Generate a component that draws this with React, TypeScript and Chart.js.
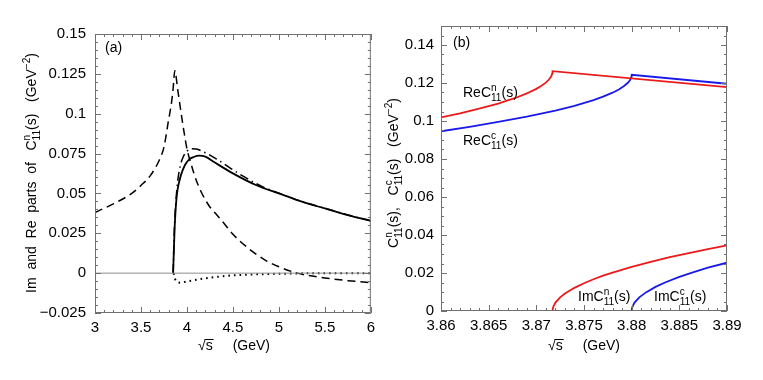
import React, { useEffect, useRef } from "react";
import { Chart, registerables } from "chart.js";
Chart.register(...registerables);

const FONT = '"Liberation Sans", Arial, Helvetica, sans-serif';
const FRAME = "#707070";
const RED = "rgb(235,25,25)";
const BLUE = "rgb(25,25,235)";

// ---------- Panel (a) ----------
const A_X_TICKS = [3, 3.5, 4, 4.5, 5, 5.5, 6];
const A_X_LABELS = ["3", "3.5", "4", "4.5", "5", "5.5", "6"];
const A_Y_TICKS = [-0.025, 0, 0.025, 0.05, 0.075, 0.1, 0.125, 0.15];
const A_Y_LABELS = ["\u22120.025", "0", "0.025", "0.05", "0.075", "0.1", "0.125", "0.15"];

const A_DASHED_X = [3.0, 3.2, 3.4, 3.5, 3.6, 3.7, 3.75, 3.8, 3.83, 3.85, 3.868, 3.9, 3.935, 3.97, 4.0, 4.05, 4.1, 4.15, 4.2, 4.25, 4.31, 4.4, 4.49, 4.67, 4.85, 5.0, 5.2, 5.5, 5.75, 6.0];
const A_DASHED_Y = [0.038, 0.0435, 0.05, 0.055, 0.061, 0.071, 0.079, 0.096, 0.106, 0.116, 0.127, 0.115, 0.101, 0.088, 0.078, 0.0675, 0.0585, 0.0515, 0.046, 0.0415, 0.0375, 0.0315, 0.025, 0.0155, 0.0082, 0.004, 0.0, -0.003, -0.0047, -0.006];

const A_SOLID_X = [3.85, 3.858, 3.866, 3.875, 3.885, 3.9, 3.935, 3.98, 4.025, 4.08, 4.13, 4.2, 4.3, 4.5, 4.75, 5.0, 5.25, 5.5, 5.75, 6.0];
const A_SOLID_Y = [0, 0.015, 0.028, 0.038, 0.046, 0.053, 0.0615, 0.068, 0.0714, 0.073, 0.0737, 0.0731, 0.0695, 0.0626, 0.0553, 0.05, 0.0448, 0.0406, 0.0364, 0.0328];

const A_DASHDOT_X = [3.85, 3.86, 3.87, 3.885, 3.9, 3.93, 3.96, 4.0, 4.05, 4.1, 4.2, 4.31, 4.475, 4.62, 4.81, 5.0, 5.25, 5.5, 5.75, 6.0];
const A_DASHDOT_Y = [0, 0.022, 0.036, 0.049, 0.058, 0.068, 0.073, 0.0765, 0.078, 0.0778, 0.0755, 0.072, 0.0657, 0.0605, 0.0545, 0.0502, 0.0449, 0.0407, 0.0365, 0.0328];

const A_DOTTED_X = [3.855, 3.87, 3.9, 3.93, 4.0, 4.13, 4.3, 4.5, 4.85, 5.2, 5.5, 6.0];
const A_DOTTED_Y = [0, -0.0035, -0.0058, -0.006, -0.0052, -0.0039, -0.0025, -0.0014, -0.0006, -0.0002, 0, 0];

const A_ZERO_X = [3, 6];
const A_ZERO_Y = [0, 0];

// ---------- Panel (b) ----------
const B_X_TICKS = [3.86, 3.865, 3.87, 3.875, 3.88, 3.885, 3.89];
const B_X_LABELS = ["3.86", "3.865", "3.87", "3.875", "3.88", "3.885", "3.89"];
const B_Y_TICKS = [0, 0.02, 0.04, 0.06, 0.08, 0.1, 0.12, 0.14];
const B_Y_LABELS = ["0", "0.02", "0.04", "0.06", "0.08", "0.1", "0.12", "0.14"];

const B_RE_N_X = [3.86, 3.862, 3.864, 3.866, 3.867, 3.868, 3.869, 3.87, 3.8705, 3.871, 3.8713, 3.8715, 3.8716, 3.87168, 3.8717, 3.89];
const B_RE_N_Y = [0.1019, 0.104, 0.1065, 0.1092, 0.1108, 0.1125, 0.1145, 0.1169, 0.1184, 0.1202, 0.1217, 0.123, 0.124, 0.1252, 0.1262, 0.1178];

const B_RE_C_X = [3.86, 3.863, 3.866, 3.869, 3.872, 3.874, 3.876, 3.877, 3.878, 3.8787, 3.8792, 3.8796, 3.8798, 3.8799, 3.87998, 3.88, 3.89];
const B_RE_C_Y = [0.0946, 0.0969, 0.0995, 0.1023, 0.1055, 0.108, 0.111, 0.1128, 0.1149, 0.1167, 0.1184, 0.1201, 0.1213, 0.1222, 0.1234, 0.1243, 0.1196];

const B_IM_N_X = [3.8717, 3.87172, 3.8718, 3.872, 3.8725, 3.873, 3.874, 3.875, 3.876, 3.877, 3.878, 3.88, 3.882, 3.884, 3.886, 3.888, 3.89];
const B_IM_N_Y = [0, 0.0011, 0.0025, 0.0044, 0.0072, 0.0092, 0.0122, 0.0146, 0.0167, 0.0186, 0.0202, 0.0232, 0.0259, 0.0283, 0.0305, 0.0326, 0.0345];

const B_IM_C_X = [3.88, 3.88002, 3.8801, 3.8803, 3.8808, 3.8815, 3.8825, 3.8835, 3.885, 3.8865, 3.888, 3.89];
const B_IM_C_Y = [0, 0.0011, 0.0025, 0.0044, 0.0072, 0.0098, 0.0127, 0.015, 0.018, 0.0205, 0.0228, 0.0254];

const pts = (xs: number[], ys: number[]) => xs.map((x, i) => ({ x, y: ys[i] }));

type Seg = { t: string; sup?: string; sub?: string; gap?: number };

function segWidth(ctx: CanvasRenderingContext2D, s: Seg, size: number) {
  ctx.font = `${size}px ${FONT}`;
  let w = ctx.measureText(s.t).width;
  const small = size * 0.72;
  ctx.font = `${small}px ${FONT}`;
  const a = s.sup ? ctx.measureText(s.sup).width : 0;
  const b = s.sub ? ctx.measureText(s.sub).width : 0;
  w += Math.max(a, b) + (s.gap || 0);
  return w;
}

function drawRich(ctx: CanvasRenderingContext2D, segs: Seg[], x: number, y: number, size: number, align: "left" | "center") {
  let total = 0;
  for (const s of segs) total += segWidth(ctx, s, size);
  let cx = align === "center" ? x - total / 2 : x;
  ctx.textAlign = "left";
  ctx.textBaseline = "alphabetic";
  for (const s of segs) {
    ctx.font = `${size}px ${FONT}`;
    ctx.fillText(s.t, cx, y);
    cx += ctx.measureText(s.t).width;
    const small = size * 0.72;
    ctx.font = `${small}px ${FONT}`;
    let m = 0;
    if (s.sup) {
      ctx.fillText(s.sup, cx, y - size * 0.45);
      m = Math.max(m, ctx.measureText(s.sup).width);
    }
    if (s.sub) {
      ctx.fillText(s.sub, cx, y + size * 0.3);
      m = Math.max(m, ctx.measureText(s.sub).width);
    }
    cx += m + (s.gap || 0);
  }
}

function drawSqrtTitle(ctx: CanvasRenderingContext2D, cx: number, y: number, size: number) {
  ctx.font = `${size}px ${FONT}`;
  const rad = "\u221A";
  const wr = ctx.measureText(rad).width;
  const ws = ctx.measureText("s").width;
  const gap = 20;
  const wg = ctx.measureText("(GeV)").width;
  const total = wr + ws + gap + wg;
  const x = cx - total / 2;
  ctx.textAlign = "left";
  ctx.textBaseline = "alphabetic";
  ctx.fillText(rad, x, y);
  const asc = ctx.measureText(rad).actualBoundingBoxAscent;
  ctx.fillText("s", x + wr, y);
  ctx.strokeStyle = "#000";
  ctx.lineWidth = 1;
  ctx.beginPath();
  const ly = Math.round(y - asc) + 0.5;
  ctx.moveTo(x + wr - 1, ly);
  ctx.lineTo(x + wr + ws + 1, ly);
  ctx.stroke();
  ctx.fillText("(GeV)", x + wr + ws + gap, y);
}

type Deco = {
  xMinor: number;
  yMinor: number;
  xTicks: number[];
  yTicks: number[];
  xTitleX: number;
  yTitle: Seg[];
  yTitleBase: number;
  yTitleCenter: number;
  labels: { segs: Seg[]; x: number; y: number }[];
};

function decoPlugin(d: Deco) {
  return {
    id: "deco",
    afterDraw(chart: any) {
      const ctx: CanvasRenderingContext2D = chart.ctx;
      const { left, right, top, bottom } = chart.chartArea;
      const xs = chart.scales.x;
      const ys = chart.scales.y;
      ctx.save();
      ctx.strokeStyle = FRAME;
      ctx.lineWidth = 1;
      ctx.strokeRect(left + 0.5, top + 0.5, right - left - 1, bottom - top - 1);
      const tick = (v: number, axis: "x" | "y", len: number) => {
        ctx.beginPath();
        if (axis === "x") {
          const p = Math.round(xs.getPixelForValue(v)) + 0.5;
          ctx.moveTo(p, bottom);
          ctx.lineTo(p, bottom - len);
          ctx.moveTo(p, top);
          ctx.lineTo(p, top + len);
        } else {
          const p = Math.round(ys.getPixelForValue(v)) + 0.5;
          ctx.moveTo(left, p);
          ctx.lineTo(left + len, p);
          ctx.moveTo(right, p);
          ctx.lineTo(right - len, p);
        }
        ctx.stroke();
      };
      const near = (v: number, arr: number[]) => arr.some((a) => Math.abs(a - v) < 1e-9);
      for (let v = xs.min; v <= xs.max + 1e-9; v += d.xMinor) {
        const vv = Math.round(v / d.xMinor) * d.xMinor;
        tick(vv, "x", near(vv, d.xTicks) ? 6 : 3);
      }
      for (let v = ys.min; v <= ys.max + 1e-9; v += d.yMinor) {
        const vv = Math.round(v / d.yMinor) * d.yMinor;
        tick(vv, "y", near(vv, d.yTicks) ? 6 : 3);
      }
      ctx.fillStyle = "#000";
      drawSqrtTitle(ctx, d.xTitleX, 350, 14);
      ctx.save();
      ctx.translate(d.yTitleBase, d.yTitleCenter);
      ctx.rotate(-Math.PI / 2);
      drawRich(ctx, d.yTitle, 0, 0, 14, "center");
      ctx.restore();
      for (const l of d.labels) drawRich(ctx, l.segs, l.x, l.y, 14, "left");
      ctx.restore();
    },
  };
}

function axisOpts(min: number, max: number, ticks: number[], labels: string[], isX: boolean, pad: number, size: number) {
  return {
    type: "linear",
    min,
    max,
    grid: { display: false, drawTicks: false },
    border: { display: false },
    afterBuildTicks: (s: any) => {
      s.ticks = ticks.map((v) => ({ value: v }));
    },
    afterFit: (s: any) => {
      if (isX) s.height = size;
      else s.width = size;
    },
    ticks: {
      autoSkip: false,
      maxRotation: 0,
      padding: pad,
      color: "#000",
      font: { family: FONT, size: 15 },
      callback: (v: number) => {
        const i = ticks.findIndex((t) => Math.abs(t - v) < 1e-9);
        return i >= 0 ? labels[i] : "";
      },
    },
  };
}

const line = (data: any, color: string, width: number, dash: number[] = [], smooth = true) => ({
  data,
  borderColor: color,
  borderWidth: width,
  borderDash: dash,
  pointRadius: 0,
  showLine: true,
  fill: false,
  tension: 0,
  cubicInterpolationMode: smooth ? "monotone" : "default",
});

function makeA() {
  return {
    type: "scatter",
    data: {
      datasets: [
        line(pts(A_ZERO_X, A_ZERO_Y), "#8c8c8c", 1),
        line(pts(A_DOTTED_X, A_DOTTED_Y), "#000", 2, [1.6, 4]),
        line(pts(A_DASHED_X, A_DASHED_Y), "#000", 1.5, [8, 5]),
        line(pts(A_DASHDOT_X, A_DASHDOT_Y), "#000", 1.5, [9, 4, 1.5, 4]),
        line(pts(A_SOLID_X, A_SOLID_Y), "#000", 1.8),
      ],
    },
    options: {
      responsive: false,
      animation: false,
      devicePixelRatio: 1,
      layout: { padding: { left: 0, right: 8, top: 34, bottom: 0 } },
      plugins: { legend: { display: false }, tooltip: { enabled: false } },
      scales: {
        x: axisOpts(3, 6, A_X_TICKS, A_X_LABELS, true, 6, 67),
        y: axisOpts(-0.025, 0.15, A_Y_TICKS, A_Y_LABELS, false, 9, 95),
      },
    },
    plugins: [
      decoPlugin({
        xMinor: 0.1,
        yMinor: 0.005,
        xTicks: A_X_TICKS,
        yTicks: A_Y_TICKS,
        xTitleX: 234,
        yTitleBase: 36,
        yTitleCenter: 173,
        yTitle: [
          { t: "Im  and  Re  parts  of   C", sup: "n", sub: "11" },
          { t: "(s)   (GeV", sup: "\u22122" },
          { t: ")" },
        ],
        labels: [{ segs: [{ t: "(a)" }], x: 105, y: 52 }],
      }),
    ],
  };
}

function makeB() {
  return {
    type: "scatter",
    data: {
      datasets: [
        line(pts(B_RE_N_X, B_RE_N_Y), RED, 1.8, [], false),
        line(pts(B_RE_C_X, B_RE_C_Y), BLUE, 1.8, [], false),
        line(pts(B_IM_N_X, B_IM_N_Y), RED, 1.8, [], false),
        line(pts(B_IM_C_X, B_IM_C_Y), BLUE, 1.8, [], false),
      ],
    },
    options: {
      responsive: false,
      animation: false,
      devicePixelRatio: 1,
      layout: { padding: { left: 0, right: 36, top: 26, bottom: 0 } },
      plugins: { legend: { display: false }, tooltip: { enabled: false } },
      scales: {
        x: axisOpts(3.86, 3.89, B_X_TICKS, B_X_LABELS, true, 6, 69),
        y: axisOpts(0, 0.15, B_Y_TICKS, B_Y_LABELS, false, 7, 60),
      },
    },
    plugins: [
      decoPlugin({
        xMinor: 0.001,
        yMinor: 0.005,
        xTicks: B_X_TICKS,
        yTicks: B_Y_TICKS.concat([0.15]),
        xTitleX: 203,
        yTitleBase: 17,
        yTitleCenter: 173,
        yTitle: [
          { t: "C", sup: "n", sub: "11" },
          { t: "(s),   C", sup: "c", sub: "11" },
          { t: "(s)   (GeV", sup: "\u22122" },
          { t: ")" },
        ],
        labels: [
          { segs: [{ t: "(b)" }], x: 72, y: 47 },
          { segs: [{ t: "ReC", sup: "n", sub: "11" }, { t: "(s)" }], x: 82, y: 97 },
          { segs: [{ t: "ReC", sup: "c", sub: "11" }, { t: "(s)" }], x: 82, y: 145 },
          { segs: [{ t: "ImC", sup: "n", sub: "11" }, { t: "(s)" }], x: 197, y: 301 },
          { segs: [{ t: "ImC", sup: "c", sub: "11" }, { t: "(s)" }], x: 273, y: 301 },
        ],
      }),
    ],
  };
}

function Panel({ make, left, width }: { make: () => any; left: number; width: number }) {
  const ref = useRef<HTMLCanvasElement>(null);
  useEffect(() => {
    const chart = new Chart(ref.current as HTMLCanvasElement, make());
    return () => chart.destroy();
  }, []);
  return (
    <canvas
      ref={ref}
      width={width}
      height={380}
      style={{ position: "absolute", left, top: 0, width, height: 380 }}
    />
  );
}

export default function App() {
  return (
    <div style={{ position: "fixed", left: 0, top: 0, width: 763, height: 380, background: "#fff" }}>
      <Panel make={makeA} left={0} width={381} />
      <Panel make={makeB} left={381} width={382} />
    </div>
  );
}
